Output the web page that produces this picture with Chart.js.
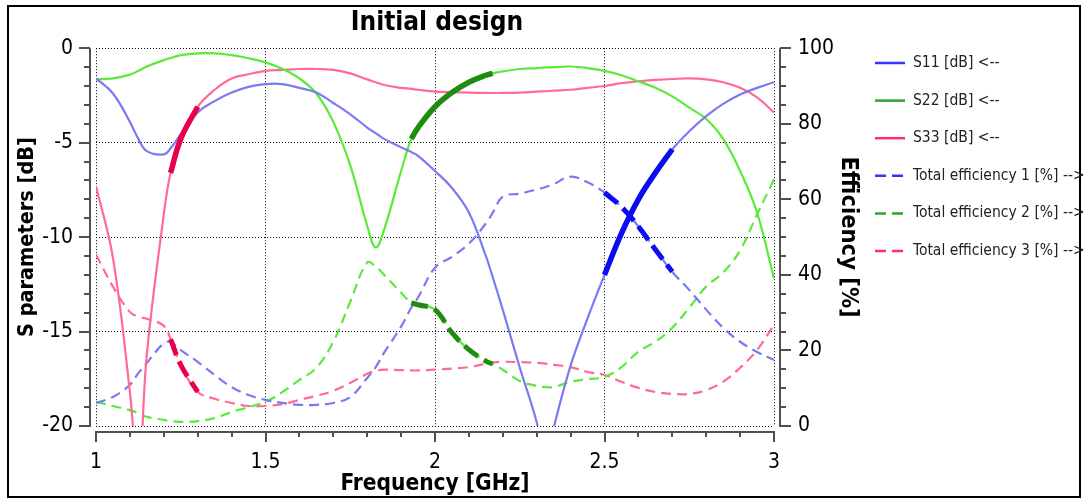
<!DOCTYPE html>
<html>
<head>
<meta charset="utf-8">
<title>Initial design</title>
<script src="https://cdn.jsdelivr.net/npm/chart.js@4.4.1/dist/chart.umd.min.js"></script>
<style>
  html, body { margin: 0; padding: 0; background: #fff; }
  #chart { display: block; }
</style>
</head>
<body>
<canvas id="chart" width="1088" height="502"></canvas>
<script>
// Frequency points [GHz] (denser near the sharp dips)
const freq = [1.00, 1.05, 1.10, 1.125, 1.15, 1.20, 1.22, 1.25, 1.30, 1.35, 1.40, 1.45, 1.50, 1.55, 1.60, 1.65,
  1.70, 1.75, 1.80, 1.825, 1.85, 1.90, 1.93, 1.95, 2.00, 2.05, 2.10, 2.15, 2.17, 2.20, 2.25, 2.30, 2.325,
  2.35, 2.40, 2.45, 2.50, 2.55, 2.60, 2.65, 2.70, 2.75, 2.80, 2.85, 2.90, 2.95, 3.00];

// S parameters [dB]
const s11 = [-1.6, -2.4, -3.9, -4.8, -5.45, -5.62, -5.3, -4.55, -3.4, -2.8, -2.35, -2.05, -1.9, -1.9, -2.1, -2.35,
  -2.9, -3.5, -4.2, -4.5, -4.8, -5.25, -5.5, -5.7, -6.5, -7.4, -8.7, -11.0, -12.1, -13.85, -16.9, -19.8, -22,
  -20.1, -16.8, -14.3, -12.0, -9.8, -8.0, -6.6, -5.35, -4.4, -3.6, -2.95, -2.45, -2.1, -1.8];
const s22 = [-1.65, -1.6, -1.4, -1.2, -0.97, -0.63, -0.52, -0.37, -0.27, -0.27, -0.37, -0.53, -0.75, -1.1, -1.6, -2.4,
  -3.9, -6.2, -9.4, -10.55, -9.6, -6.5, -4.8, -4.2, -3.1, -2.35, -1.8, -1.43, -1.33, -1.23, -1.1, -1.05, -1.02,
  -1.0, -0.97, -1.05, -1.2, -1.43, -1.75, -2.1, -2.55, -3.15, -3.75, -4.8, -6.5, -8.7, -12.2];
const s33 = [-7.3, -11.1, -18.2, -22.7, -16.2, -8.8, -6.6, -4.8, -3.1, -2.2, -1.6, -1.38, -1.2, -1.15, -1.1, -1.1,
  -1.15, -1.33, -1.65, -1.8, -1.95, -2.1, -2.15, -2.2, -2.3, -2.33, -2.35, -2.37, -2.37, -2.37, -2.35, -2.3, -2.28,
  -2.25, -2.2, -2.1, -2.0, -1.85, -1.75, -1.68, -1.63, -1.6, -1.65, -1.8, -2.1, -2.6, -3.4];

// Total efficiency [%]
const eff1 = [6.1, 7.7, 10.9, 14, 16.7, 21.9, 22.2, 20.1, 17, 13.5, 10.3, 8.2, 6.9, 6.1, 5.6, 5.6,
  6.1, 7.7, 12.7, 15.6, 19.4, 26.3, 31.3, 34, 41.9, 44.8, 48.3, 53.6, 56.4, 60.7, 61.5, 62.6, 63.2,
  64, 66, 64.5, 61.8, 58, 52.8, 46.7, 40.8, 36, 30.8, 26, 22.3, 19.6, 17.5];
const eff2 = [6.4, 5.3, 4.2, 3.4, 2.4, 1.6, 1.3, 1.1, 1.3, 2.1, 3.7, 5.0, 6.4, 9, 12.2, 15.4,
  22.3, 32.9, 43.3, 42.2, 40, 35.3, 32.6, 32.1, 30.8, 24.7, 20.2, 17.2, 16.4, 14.9, 11.9, 10.6, 10.3,
  10.3, 11.7, 12.4, 13, 15.6, 19.7, 22.3, 26, 31.3, 36.9, 40.6, 46.5, 56, 65.3];
const eff3 = [45.4, 36.9, 30.2, 28.9, 28.4, 26.5, 23, 16.2, 9, 7.2, 6.1, 5.3, 5.3, 5.8, 6.9, 8.0,
  9.3, 11.4, 13.8, 14.6, 14.9, 14.8, 14.7, 14.7, 14.9, 15.2, 15.6, 16.5, 16.8, 17, 16.9, 16.7, 16.5,
  16.2, 15.6, 14.3, 13.5, 11.7, 10.1, 9.0, 8.5, 8.5, 9.5, 11.7, 15.4, 20.1, 26.8];

// highlighted operating bands for port 1, 2, 3 [GHz]
const bands = [[2.5, 2.7], [1.93, 2.17], [1.22, 1.30]];

const seriesNames = ['S11 [dB] <--', 'S22 [dB] <--', 'S33 [dB] <--',
  'Total efficiency 1 [%] -->', 'Total efficiency 2 [%] -->', 'Total efficiency 3 [%] -->'];
const freqTicks = [1, 1.5, 2, 2.5, 3];
const sTicks = [-20, -15, -10, -5, 0];
const effTicks = [0, 20, 40, 60, 80, 100];

const lightColors = ['#7a7af2', '#5aea3a', '#ff6b95'];
const strongColors = ['#0c0cf0', '#1f8c0f', '#e8004c'];
const legendColors = ['#3434ff', '#2ea52e', '#ff2f6e'];
const fontFamily = "'DejaVu Sans Condensed', 'DejaVu Sans', sans-serif";

function points(values, lo, hi) {
  const all = freq.map((f, i) => ({ x: f, y: values[i] }));
  if (lo === undefined) return all;
  return all.filter(p => p.x >= lo - 1e-9 && p.x <= hi + 1e-9);
}

const sParams = [s11, s22, s33];
const effs = [eff1, eff2, eff3];
const datasets = [];

sParams.forEach((v, k) => {
  datasets.push({
    label: seriesNames[k], data: points(v), yAxisID: 'y',
    borderColor: lightColors[k], borderWidth: 2.2, inLegend: true, legendColor: legendColors[k], order: 2
  });
});
effs.forEach((v, k) => {
  datasets.push({
    label: seriesNames[k + 3], data: points(v), yAxisID: 'y2',
    borderColor: lightColors[k], borderWidth: 2.2, borderDash: [10, 6], inLegend: true, legendColor: legendColors[k], order: 2
  });
});
// thick parts inside each band
bands.forEach(([lo, hi], k) => {
  datasets.push({ label: '', data: points(sParams[k], lo, hi), yAxisID: 'y',
    borderColor: strongColors[k], borderWidth: 5.5, order: 0 });
  datasets.push({ label: '', data: points(effs[k], lo, hi), yAxisID: 'y2',
    borderColor: strongColors[k], borderWidth: 5, borderDash: [17, 7], order: 0 });
});

function line(ctx, x1, y1, x2, y2) {
  ctx.beginPath();
  ctx.moveTo(x1, y1);
  ctx.lineTo(x2, y2);
  ctx.stroke();
}

// outer frame, offset axes with minor ticks and the legend
const decorations = {
  id: 'decorations',
  beforeDraw(chart) {
    const ctx = chart.ctx;
    ctx.save();
    ctx.fillStyle = '#fff';
    ctx.fillRect(0, 0, chart.width, chart.height);
    ctx.strokeStyle = '#000';
    ctx.lineWidth = 2;
    ctx.strokeRect(8, 6, 1072, 491);
    ctx.restore();
  },
  afterDraw(chart) {
    const { ctx, chartArea: a, scales } = chart;
    ctx.save();
    ctx.strokeStyle = '#505050';
    ctx.lineWidth = 2;

    // left axis
    const lx = a.left - 6;
    line(ctx, lx, a.top, lx, a.bottom + 1);
    for (let v = -20; v <= 0; v++) {
      const y = Math.round(scales.y.getPixelForValue(v));
      line(ctx, lx - (v % 5 === 0 ? 11 : 6), y, lx, y);
    }
    // right axis
    const rx = a.right + 6;
    line(ctx, rx, a.top, rx, a.bottom + 1);
    for (let v = 0; v <= 100; v += 5) {
      const y = Math.round(scales.y2.getPixelForValue(v));
      line(ctx, rx, y, rx + (v % 20 === 0 ? 11 : 6), y);
    }
    // bottom axis
    const by = a.bottom + 6;
    line(ctx, a.left - 1, by, a.right + 1, by);
    for (let i = 0; i <= 20; i++) {
      const x = Math.round(scales.x.getPixelForValue(1 + i / 10));
      line(ctx, x, by, x, by + (i % 5 === 0 ? 10 : 5));
    }

    // legend
    let y = 63;
    ctx.font = '15.5px ' + fontFamily;
    ctx.textBaseline = 'middle';
    ctx.textAlign = 'left';
    chart.data.datasets.filter(d => d.inLegend).forEach(d => {
      ctx.strokeStyle = d.legendColor;
      ctx.lineWidth = 2.5;
      ctx.setLineDash(d.borderDash ? [11, 6] : []);
      line(ctx, 875, y, 905, y);
      ctx.setLineDash([]);
      ctx.fillStyle = '#222';
      ctx.fillText(d.label, 913, y);
      y += 37.6;
    });
    ctx.restore();
  }
};

const tickFont = { family: fontFamily, size: 21 };

new Chart(document.getElementById('chart'), {
  type: 'line',
  data: { datasets },
  plugins: [decorations],
  options: {
    responsive: false,
    animation: false,
    devicePixelRatio: 1,
    layout: { padding: { top: 6, right: 214, left: 0, bottom: 0 } },
    elements: {
      point: { radius: 0 },
      line: { tension: 0.4, borderCapStyle: 'butt' }
    },
    datasets: { line: { clip: 0 } },
    plugins: {
      legend: { display: false },
      tooltip: { enabled: false },
      title: {
        display: true,
        text: 'Initial design',
        color: '#000',
        font: { family: fontFamily, size: 26, weight: 'bold' },
        padding: { top: 2, bottom: 9 }
      }
    },
    scales: {
      x: {
        type: 'linear', min: 1, max: 3,
        afterBuildTicks: s => { s.ticks = freqTicks.map(v => ({ value: v })); },
        afterFit: s => { s.height = 76; },
        ticks: { font: tickFont, color: '#000', padding: 24, maxRotation: 0, autoSkip: false,
          callback: v => String(v) },
        grid: { color: '#000', lineWidth: 1, drawTicks: false },
        border: { display: false, dash: [1, 2] },
        title: { display: true, text: 'Frequency [GHz]', color: '#000',
          font: { family: fontFamily, size: 22.5, weight: 'bold' }, padding: { top: 0, bottom: 4 } }
      },
      y: {
        type: 'linear', position: 'left', min: -20, max: 0,
        afterBuildTicks: s => { s.ticks = sTicks.map(v => ({ value: v })); },
        afterFit: s => { s.width = 96; },
        ticks: { font: tickFont, color: '#000', padding: 23 },
        grid: { color: '#000', lineWidth: 1, drawTicks: false },
        border: { display: false, dash: [1, 2] },
        title: { display: true, text: 'S parameters [dB]', color: '#000',
          font: { family: fontFamily, size: 21.5, weight: 'bold' }, padding: { top: 15, bottom: 0 } }
      },
      y2: {
        type: 'linear', position: 'right', min: 0, max: 100,
        afterBuildTicks: s => { s.ticks = effTicks.map(v => ({ value: v })); },
        afterFit: s => { s.width = 100; },
        ticks: { font: tickFont, color: '#000', padding: 24 },
        grid: { display: false, drawTicks: false },
        border: { display: false },
        title: { display: true, text: 'Efficiency [%]', color: '#000',
          font: { family: fontFamily, size: 23.5, weight: 'bold' }, padding: { top: 12, bottom: 0 } }
      }
    }
  }
});
</script>
</body>
</html>
